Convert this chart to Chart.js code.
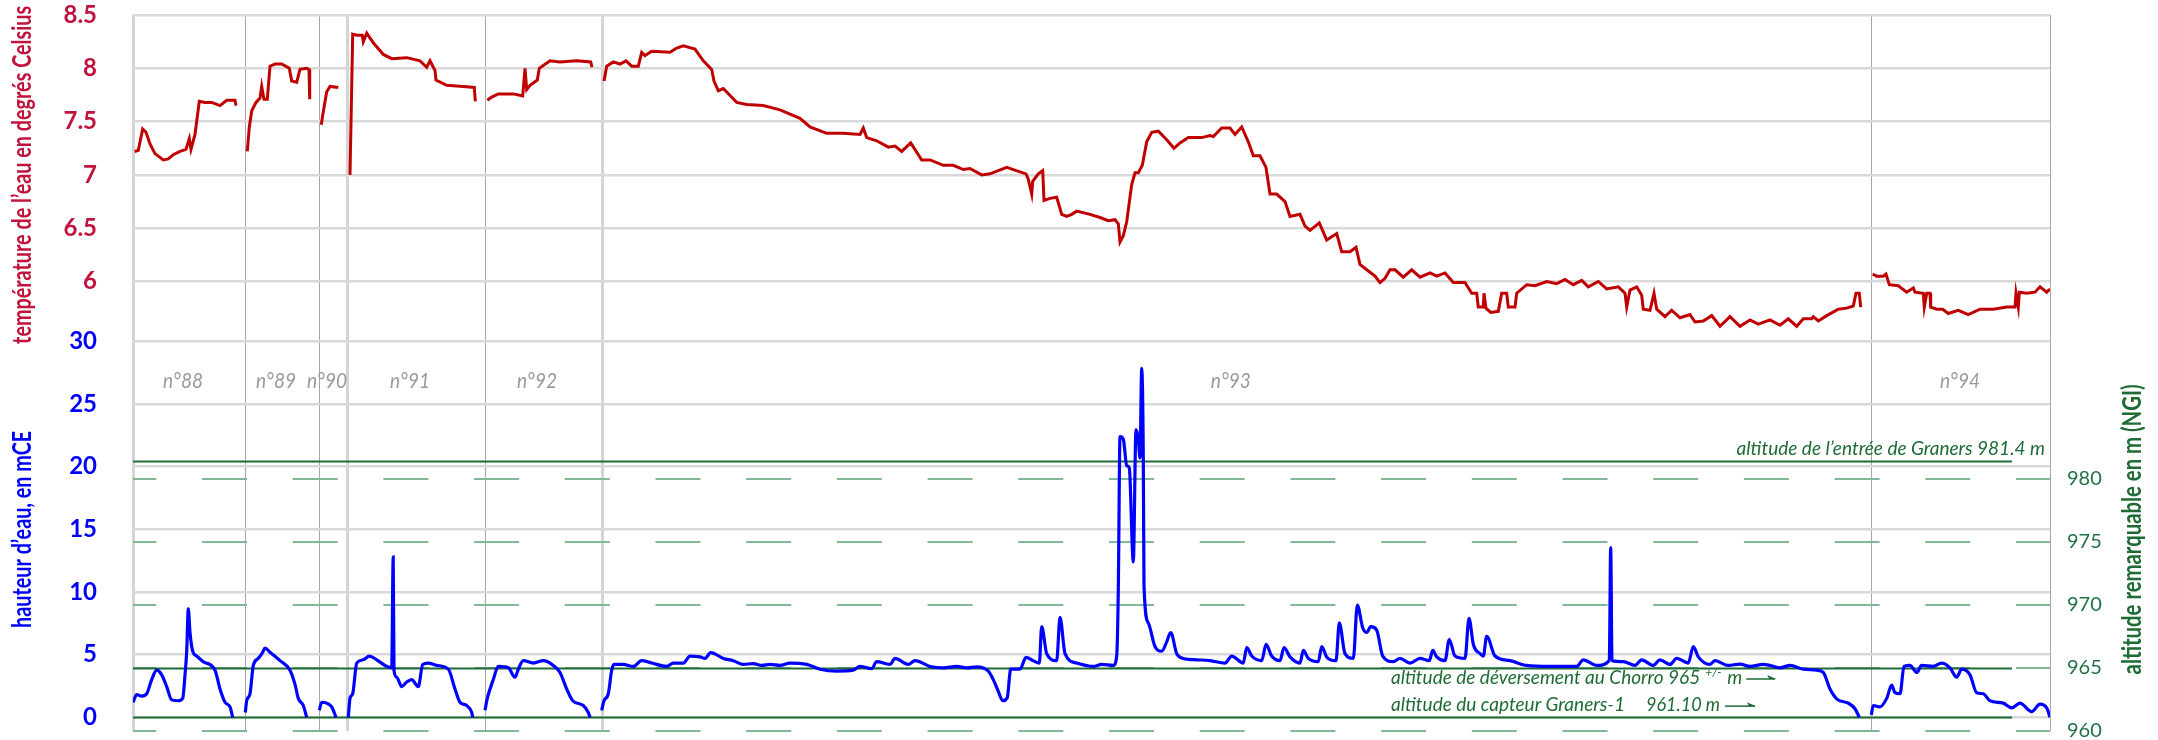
<!DOCTYPE html>
<html>
<head>
<meta charset="utf-8">
<script src="https://cdn.jsdelivr.net/npm/chart.js@4.4.1/dist/chart.umd.min.js"></script>
<style>
  html, body { margin: 0; padding: 0; background: #fff; }
</style>
</head>
<body>
<canvas id="graph" width="2158" height="740"></canvas>
<script>
// épisodes de crue et séparations (en jours depuis le début de la série)
const episodes = ['n°88', 'n°89', 'n°90', 'n°91', 'n°92', 'n°93', 'n°94'];
const episodeCentres = [25, 71.5, 97, 138.5, 202, 548.9, 913.5];
const separations = [0, 56.25, 93.1, 107.4, 176.35, 234.6, 869, 958.5];
const separationsFortes = [0, 107.4, 234.6];

const tempTicks = [6, 6.5, 7, 7.5, 8, 8.5];
const eauTicks = [0, 5, 10, 15, 20, 25, 30];
const altTicks = [960, 965, 970, 975, 980];

// altitudes remarquables (m NGI)
const reperesAltitude = [981.4, 965, 961.1];

// température de l'eau (°C) ; null = pas de mesure
const tempJours = [
  0.85, 2.65, 4.85, 6.5, 8.5, 11, 15.15, 17.65, 20.15, 23.5, 26.5, 28.15, 29, 31, 33.15, 36, 39.35, 43.5, 46.85, 51, 51.5,
  54,
  57.15, 58.15, 59.35, 61.5, 63.5, 64.35, 65.5, 67.15, 68.5, 71, 74.35, 78.15, 79.35, 81.85, 83.5, 86.85, 88, 88.35,
  91,
  94.15, 94.85, 96.85, 98.5, 102.65,
  105,
  108.5, 109.85, 111.85, 114.65, 115.15, 116.85, 120.15, 125.15, 129.35, 136.85, 143.5, 146.85, 148.5, 151, 151.5, 156.85, 165.15, 170.65, 171.15,
  174,
  177.15, 179.35, 182.65, 190.15, 194.85, 196, 196.85, 198.5, 202.15, 203.15, 208.5, 213.5, 221.85, 228.85, 229.5,
  232,
  235.5, 236.85, 240.15, 243.5, 246.5, 249.35, 252.65, 254.35, 256, 259.35, 268.5, 271.85, 275.15, 281, 285.15, 289.35, 290.5, 292.65, 295.15,
  301.85, 306.85, 315.15, 323.5, 328.5, 333.5, 338.5, 346.85, 355.15, 363.5, 365.15, 366.85, 371.85, 377.65, 381, 384.35, 388.85, 394.35, 398.5,
  405.15, 410.15, 415.15, 418.5, 424.35, 428.5, 436.85, 440.15, 446.5, 447.65, 449.35, 449.85, 452.65, 454.85, 455.5, 458.5, 461.85, 464.35,
  466.85, 469.35, 471.85, 478.5, 483.5, 487.65, 491, 492.65, 493.5, 495.15, 496.85, 499.35, 501, 502.65, 504.65, 506.85, 509.35, 512.65,
  516.85, 520.5, 523.5, 527.65, 534.35, 538.5, 540.15, 544.35, 548.5, 551, 554.35, 557.65, 560.15, 563.5, 566.5, 568.5, 571.85, 576,
  578.5, 583.5, 586, 588.5, 593.15, 596.85, 601.85, 604.35, 608.5, 611.5, 613.5, 616.85, 621, 623.5, 626, 628.5, 631, 635.15, 639.35,
  643.5, 648.5, 651.85, 656, 660.15, 666, 669.35, 671.85, 672.65, 675.15, 675.5, 676.5, 678.85, 682.65, 684.35, 686.85, 687.65, 691,
  691.85, 696.85, 701, 706.85, 711.85, 716, 720.15, 724.35, 727.65, 732.65, 736.85, 742.65, 746, 746.85, 748.5, 751.85, 754.35, 755.15,
  758.5, 760.5, 761.85, 766, 769.35, 773.5, 778.5, 781, 785.15, 789.35, 793.5, 798.5, 803.5, 808.5, 812.65, 818.5, 823.5, 827.65,
  831.85, 835.15, 839.35, 840.15, 842.65, 846.85, 852.65, 856.85, 860.15, 861.5, 863.15, 863.85,
  866,
  869.85, 871.85, 875.15, 876.5, 878.15, 882.65, 886.85, 890.15, 891, 895.15, 895.65, 896.85, 898.5, 898.85, 901.85, 904.85, 907.65,
  912.65, 917.65, 923.5, 930.15, 936.85, 941, 941.5, 942.65, 943.15, 946.85, 951, 953.5, 956.85, 958.5
];
const tempValeurs = [
  7.22, 7.23, 7.43, 7.40, 7.29, 7.20, 7.14, 7.15, 7.19, 7.22, 7.24, 7.34, 7.24, 7.38, 7.69, 7.68, 7.68, 7.65, 7.70, 7.70, 7.65,
  null,
  7.22, 7.45, 7.60, 7.68, 7.72, 7.83, 7.71, 7.71, 8.02, 8.04, 8.04, 8.00, 7.88, 7.87, 7.99, 8.00, 7.99, 7.71,
  null,
  7.47, 7.56, 7.78, 7.83, 7.82,
  null,
  7.00, 8.32, 8.31, 8.31, 8.25, 8.33, 8.24, 8.13, 8.09, 8.10, 8.07, 8.01, 8.07, 7.98, 7.89, 7.84, 7.83, 7.82, 7.69,
  null,
  7.70, 7.73, 7.76, 7.76, 7.74, 8.00, 7.80, 7.84, 7.89, 8.00, 8.07, 8.06, 8.07, 8.06, 8.01,
  null,
  7.88, 8.02, 8.06, 8.04, 8.07, 8.02, 8.02, 8.15, 8.12, 8.16, 8.15, 8.19, 8.21, 8.18, 8.07, 7.99, 7.88, 7.79, 7.81,
  7.68, 7.66, 7.65, 7.61, 7.57, 7.53, 7.45, 7.39, 7.39, 7.38, 7.44, 7.35, 7.32, 7.26, 7.27, 7.22, 7.30, 7.14, 7.14,
  7.09, 7.09, 7.05, 7.06, 7.00, 7.01, 7.07, 7.05, 7.01, 6.96, 6.82, 6.94, 7.01, 7.04, 6.76, 6.78, 6.79, 6.63,
  6.61, 6.63, 6.66, 6.63, 6.60, 6.57, 6.58, 6.54, 6.37, 6.43, 6.56, 6.91, 7.02, 7.02, 7.09, 7.31, 7.40, 7.41,
  7.33, 7.25, 7.30, 7.35, 7.35, 7.37, 7.36, 7.44, 7.44, 7.38, 7.45, 7.31, 7.18, 7.18, 7.07, 6.82, 6.82, 6.75,
  6.61, 6.63, 6.52, 6.48, 6.55, 6.39, 6.45, 6.28, 6.28, 6.32, 6.16, 6.11, 6.05, 5.99, 6.03, 6.11, 6.11, 6.04, 6.11,
  6.04, 6.08, 6.05, 6.08, 5.99, 5.99, 5.89, 5.89, 5.76, 5.76, 5.89, 5.75, 5.71, 5.72, 5.89, 5.89, 5.76, 5.76,
  5.89, 5.97, 5.96, 6.00, 5.98, 6.02, 5.97, 6.01, 5.95, 6.00, 5.93, 5.95, 5.89, 5.76, 5.92, 5.95, 5.87, 5.74,
  5.73, 5.89, 5.74, 5.67, 5.73, 5.66, 5.69, 5.62, 5.63, 5.68, 5.58, 5.67, 5.58, 5.64, 5.60, 5.64, 5.59, 5.65,
  5.58, 5.65, 5.65, 5.67, 5.63, 5.68, 5.74, 5.75, 5.77, 5.89, 5.89, 5.76,
  null,
  6.07, 6.05, 6.05, 6.07, 5.97, 5.96, 5.90, 5.94, 5.90, 5.89, 5.76, 5.89, 5.89, 5.76, 5.74, 5.74, 5.70,
  5.73, 5.69, 5.74, 5.74, 5.76, 5.76, 5.89, 5.76, 5.90, 5.89, 5.90, 5.95, 5.90, 5.93
];

// hauteur d'eau au capteur Graners-1 (mCE)
const eauJours = [
  0, 1.85, 4.35, 6.85, 9.35, 11.85, 14.35, 16.85, 19.35, 22.65, 24.85, 26, 26.85, 27.65, 28.5, 29.85, 31.85, 35.15, 41, 43.5, 46, 48.5, 49.85,
  53,
  56.15, 56.85, 58.5, 60.15, 62.65, 64.85, 66, 68.5, 73.5, 78.5, 81, 82.65, 85.15, 86.85,
  90,
  93.15, 94.35, 96.85, 99.35, 101.5,
  104,
  107.65, 108.5, 109.85, 111.85, 115.15, 118.15, 121.85, 126, 129.35, 130.1, 130.5, 131.85, 134.35, 136.85, 139.35, 142.65, 144.85,
  147.65, 151.85, 157.65, 161, 163.5, 166.85, 169.35, 169.85,
  173,
  176, 177.15, 180.15, 182.65, 187.65, 191, 192.65, 195.15, 200.15, 205.15, 210.15, 213.5, 216.85, 219.85, 225.15, 227.65, 228.5,
  231,
  234.35, 235.5, 237.65, 239.35, 240.5, 245.15, 250.15, 254.35, 259.35, 266.85, 270.15, 275.15, 278.5, 283.5, 286, 288.85, 295.15,
  300.15, 305.15, 310.15, 314.35, 318.5, 323.5, 328.5, 336.85, 343.5, 351.85, 360.15, 363.5, 369.35, 371.85, 378.5, 381, 387.65,
  391, 398.5, 405.15, 411.85, 416.85, 421.85, 427.65, 430.15, 432.65, 434.85, 437.15, 438.85, 443.5, 446.5, 450.15, 453.15, 454.35,
  456.85, 461.85, 463.5, 466, 471.85, 480.15, 484.35, 490.15, 491.85, 492.65, 493.5, 495.15, 496.85, 498.15, 500.15, 501.5, 502.65,
  503.5, 504.35, 505.15, 505.5, 507.65, 511, 514.35, 516.85, 518.85, 521.85, 525.15, 531.85, 538.5, 546, 549.35, 555.15, 556.85,
  559.35, 564.35, 566.5, 569.35, 573.5, 575.5, 578.5, 583.5, 585.15, 587.65, 592.65, 594.35, 596.85, 601.5, 603.15, 606, 610.15,
  612.15, 614.85, 616.85, 618.85, 621.85, 624.85, 630.15, 633.5, 638.5, 643.5, 648.15, 649.85, 651.85, 656, 658.15, 661, 666, 668,
  670.15, 673.5, 675.15, 676.85, 681, 688.5, 696.85, 708.5, 721.85, 725.15, 731.85, 738.15, 738.85, 739.5, 745.15, 751, 754.35,
  760.15, 763.5, 768.5, 771.85, 777.65, 780.15, 782.65, 788.5, 791, 797.65, 803.5, 808.5, 815.15, 818.5, 823.5, 828.5, 835.15,
  841.85, 845.15, 848.5, 852.15, 857.65, 861, 863.15,
  866,
  869.15, 870.15, 873.5, 876.85, 879.35, 881, 883.5, 885.5, 888.5, 891.85, 894.35, 900.15, 904.35, 908.5, 911.85, 914.35, 918.5,
  921.85, 925.15, 928.5, 935.15, 939.35, 943.5, 949.35, 953.5, 956.85, 958.5
];
const eauValeurs = [
  1.20, 1.81, 1.69, 1.88, 3.01, 3.76, 3.39, 2.45, 1.39, 1.32, 1.51, 3.39, 5.27, 8.66, 6.77, 5.27, 4.89, 4.44, 3.76, 2.26, 1.20, 0.83, 0,
  null,
  0.38, 1.32, 1.88, 4.14, 4.70, 5.19, 5.53, 5.19, 4.52, 3.76, 2.63, 1.51, 0.94, 0,
  null,
  0.56, 1.20, 1.13, 0.83, 0,
  null,
  0, 1.51, 1.88, 4.33, 4.59, 4.89, 4.59, 4.14, 3.95, 12.8, 3.76, 3.20, 2.45, 2.82, 3.01, 2.45, 4.22,
  4.33, 4.14, 3.84, 2.26, 1.20, 0.94, 0.38, 0,
  null,
  0.56, 1.51, 3.01, 4.06, 3.95, 3.20, 3.84, 4.52, 4.33, 4.52, 4.14, 3.58, 2.26, 1.32, 0.94, 0.38, 0,
  null,
  0.56, 1.32, 1.88, 3.76, 4.22, 4.22, 4.06, 4.52, 4.33, 4.06, 4.33, 4.33, 4.89, 4.82, 4.70, 5.16, 4.70,
  4.52, 4.22, 4.29, 4.14, 4.22, 4.14, 4.33, 4.22, 3.84, 3.69, 3.76, 4.06, 3.88, 4.44, 4.22, 4.70, 4.22,
  4.52, 4.06, 3.95, 4.06, 3.95, 4.03, 3.69, 3.01, 2.07, 1.32, 1.58, 3.84, 3.84, 4.78, 4.52, 4.33, 7.23,
  5.08, 4.52, 7.98, 5.08, 4.33, 4.06, 4.22, 4.14, 4.89, 10.16, 22.4, 22.2, 20.1, 19.9, 12.4, 22.96, 22.2,
  20.7, 27.85, 20.7, 10.5, 7.53, 5.65, 5.27, 6.02, 6.77, 5.08, 4.70, 4.59, 4.52, 4.33, 4.89, 4.33, 5.57,
  4.89, 4.52, 5.83, 4.89, 4.52, 5.57, 4.82, 4.33, 5.34, 4.70, 4.44, 5.65, 4.82, 4.52, 7.53, 5.08, 4.70,
  8.96, 7.15, 6.77, 7.23, 6.96, 4.89, 4.44, 4.70, 4.33, 4.70, 4.52, 5.34, 4.82, 4.52, 6.21, 4.89, 4.70, 7.90,
  5.83, 5.08, 4.89, 6.47, 4.89, 4.52, 4.14, 4.06, 4.06, 4.59, 4.14, 4.52, 13.55, 4.52, 4.44, 4.14, 4.59,
  4.14, 4.59, 4.22, 4.70, 4.33, 5.65, 4.82, 4.22, 4.52, 4.14, 4.25, 4.06, 4.22, 4.14, 3.95, 4.14, 3.84,
  3.76, 3.58, 2.26, 1.43, 1.13, 0.68, 0,
  null,
  0.19, 0.94, 0.83, 1.51, 2.56, 1.96, 1.88, 4.06, 4.14, 3.58, 4.14, 4.06, 4.33, 3.95, 3.20, 3.84, 3.39,
  1.96, 1.88, 1.32, 1.13, 0.75, 1.13, 0.45, 1.05, 0.75, 0
];

// limite droite des traits d'altitude remarquable, début des légendes basses
const finReperes = 939.5;
const debutLegendes = 629;
const finLegendeEntree = 956;

const POLICE = 'Lato, "Open Sans", sans-serif';
const VERT = '#1e6b35';
const ROUGE_AXE = '#c0143c';

function points(jours, valeurs) {
  return jours.map((j, i) => ({ x: j, y: valeurs[i] }));
}

function fixTicks(values) {
  return scale => { scale.ticks = values.map(v => ({ value: v })); };
}

// largeur imposée, sans marge automatique haut/bas
function largeur(w) {
  return s => {
    s.width = w;
    s.paddingTop = 0;
    s.paddingBottom = 0;
  };
}

function fleche(ctx, x1, x2, y) {
  ctx.beginPath();
  ctx.moveTo(x1, y);
  ctx.lineTo(x2, y);
  ctx.stroke();
  ctx.beginPath();
  ctx.moveTo(x2 + 1, y);
  ctx.lineTo(x2 - 8, y - 4);
  ctx.lineTo(x2 - 6, y);
  ctx.closePath();
  ctx.fill();
}

const decorPlugin = {
  id: 'decor',
  beforeDatasetsDraw(chart) {
    const { ctx, scales } = chart;
    const x = scales.x, alt = scales.alt, eau = scales.eau;
    ctx.save();
    // altitudes remarquables
    ctx.strokeStyle = VERT;
    ctx.lineWidth = 2;
    reperesAltitude.forEach(a => {
      const y = Math.round(alt.getPixelForValue(a)) + 0.5;
      ctx.beginPath();
      ctx.moveTo(x.getPixelForValue(0), y);
      ctx.lineTo(x.getPixelForValue(finReperes), y);
      ctx.stroke();
    });
    // numéros d'épisodes
    ctx.fillStyle = '#9a9a9a';
    ctx.font = 'italic 21px ' + POLICE;
    ctx.textAlign = 'center';
    ctx.textBaseline = 'middle';
    episodes.forEach((e, i) => {
      ctx.fillText(e, x.getPixelForValue(episodeCentres[i]), eau.getPixelForValue(26.85), 40);
    });
    ctx.restore();
  },
  afterDraw(chart) {
    const { ctx, scales } = chart;
    const x = scales.x, alt = scales.alt, eau = scales.eau, temp = scales.temp;
    ctx.save();

    // graduations de température (même colonne que la hauteur d'eau)
    ctx.fillStyle = ROUGE_AXE;
    ctx.font = 'bold 24px ' + POLICE;
    ctx.textAlign = 'right';
    ctx.textBaseline = 'middle';
    temp.ticks.forEach(t => {
      ctx.fillText(String(t.value), eau.right - 36, temp.getPixelForValue(t.value));
    });

    // titres des axes
    const titre = (txt, cx, cy, couleur, largeurMax) => {
      ctx.save();
      ctx.translate(cx, cy);
      ctx.rotate(-Math.PI / 2);
      ctx.fillStyle = couleur;
      ctx.font = 'bold 27px ' + POLICE;
      ctx.textAlign = 'center';
      ctx.textBaseline = 'middle';
      ctx.fillText(txt, 0, 0, largeurMax);
      ctx.restore();
    };
    titre('température de l’eau en degrés Celsius', eau.left + 22, temp.getPixelForValue(7.0), ROUGE_AXE, 338);
    titre('hauteur d’eau, en mCE', eau.left + 22, eau.getPixelForValue(15), '#0000ff', 197);
    titre('altitude remarquable en m (NGI)', alt.left + 82, eau.getPixelForValue(15), VERT, 290);

    // légendes des altitudes remarquables
    ctx.fillStyle = VERT;
    ctx.strokeStyle = VERT;
    ctx.lineWidth = 1.5;
    ctx.textBaseline = 'alphabetic';
    ctx.font = 'italic 19px ' + POLICE;

    ctx.textAlign = 'right';
    ctx.fillText('altitude de l’entrée de Graners 981.4 m', x.getPixelForValue(finLegendeEntree),
      alt.getPixelForValue(981.4) - 6, 312);

    ctx.textAlign = 'left';
    const x0 = x.getPixelForValue(debutLegendes);
    const yChorro = alt.getPixelForValue(965) + 16;
    const t1 = 'altitude de déversement au Chorro 965';
    const w1 = Math.min(ctx.measureText(t1).width, 311);
    ctx.fillText(t1, x0, yChorro, 311);
    ctx.font = 'italic 12px ' + POLICE;
    ctx.fillText('+/-', x0 + w1 + 5, yChorro - 8);
    ctx.font = 'italic 19px ' + POLICE;
    ctx.fillText('m', x0 + w1 + 27, yChorro);
    fleche(ctx, x0 + w1 + 46, x0 + w1 + 75, yChorro - 5);

    const yCapteur = alt.getPixelForValue(961.1) - 6;
    ctx.fillText('altitude du capteur Graners-1', x0, yCapteur, 236);
    ctx.fillText('961.10 m', x0 + 255, yCapteur, 74);
    fleche(ctx, x0 + 334, x0 + 364, yCapteur - 5);

    ctx.restore();
  }
};

new Chart(document.getElementById('graph').getContext('2d'), {
  type: 'line',
  data: {
    datasets: [
      {
        label: 'température',
        data: points(tempJours, tempValeurs),
        yAxisID: 'temp',
        borderColor: '#c00000',
        borderWidth: 3,
        pointRadius: 0,
        tension: 0,
        spanGaps: false
      },
      {
        label: 'hauteur d’eau',
        data: points(eauJours, eauValeurs),
        yAxisID: 'eau',
        borderColor: '#0000ff',
        borderWidth: 3.2,
        pointRadius: 0,
        cubicInterpolationMode: 'monotone',
        spanGaps: false
      }
    ]
  },
  options: {
    responsive: false,
    animation: false,
    layout: { padding: { top: 15, bottom: 9, left: 0, right: 0 } },
    plugins: { legend: { display: false }, tooltip: { enabled: false } },
    scales: {
      x: {
        type: 'linear',
        min: 0,
        max: 958.5,
        afterBuildTicks: fixTicks(separations),
        afterFit: s => { s.height = 0; s.paddingLeft = 0; s.paddingRight = 0; },
        ticks: { display: false },
        border: { display: false },
        grid: {
          drawTicks: false,
          color: c => separationsFortes.includes(c.tick.value) ? '#d4d4d4' : '#a6a6a6',
          lineWidth: c => separationsFortes.includes(c.tick.value) ? 3 : 1
        }
      },
      eau: {
        position: 'left',
        weight: 1,
        min: -1.094,
        max: 56.06,
        afterBuildTicks: fixTicks(eauTicks),
        afterFit: largeur(133),
        border: { display: false },
        grid: { drawTicks: false, color: '#d9d9d9', lineWidth: 2.5 },
        ticks: {
          autoSkip: false,
          padding: 36,
          color: '#0000ff',
          font: { family: POLICE, size: 24, weight: 'bold' }
        }
      },
      temp: {
        position: 'left',
        weight: 0,
        min: 1.7833,
        max: 8.5,
        afterBuildTicks: fixTicks(tempTicks),
        afterFit: largeur(0),
        border: { display: false },
        grid: { drawTicks: false, color: '#d9d9d9', lineWidth: 2.5 },
        ticks: { display: false, autoSkip: false }
      },
      alt: {
        position: 'right',
        min: 960,
        max: 1016.83,
        afterBuildTicks: fixTicks(altTicks),
        afterFit: largeur(108),
        border: { display: false, dash: [45, 45.7], dashOffset: 21.7 },
        grid: { drawTicks: false, color: '#7fb996', lineWidth: 2 },
        ticks: {
          autoSkip: false,
          padding: 17,
          color: '#217346',
          font: { family: POLICE, size: 20 }
        }
      }
    }
  },
  plugins: [decorPlugin]
});
</script>
</body>
</html>
